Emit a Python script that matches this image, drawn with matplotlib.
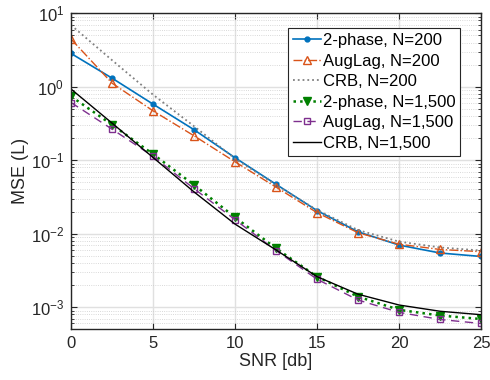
import numpy as np
import matplotlib
matplotlib.use("Agg")
import matplotlib.pyplot as plt
from matplotlib.ticker import LogLocator, NullFormatter

plt.rcParams['font.family'] = ['Liberation Sans', 'DejaVu Sans']

snr = [0, 2.5, 5, 7.5, 10, 12.5, 15, 17.5, 20, 22.5, 25]

twophase_200 = [2.84, 1.31, 0.58, 0.26, 0.108, 0.047, 0.0206, 0.0106, 0.0070, 0.00546, 0.0049]
auglag_200 = [4.46, 1.12, 0.47, 0.215, 0.095, 0.043, 0.0193, 0.0103, 0.0072, 0.0061, 0.0057]
crb_200 = [6.9, 2.3, 0.78, 0.29, 0.105, 0.046, 0.021, 0.0112, 0.0078, 0.0065, 0.0059]
twophase_1500 = [0.74, 0.304, 0.121, 0.046, 0.0167, 0.0063, 0.0026, 0.00139, 0.00092, 0.00077, 0.00069]
auglag_1500 = [0.61, 0.265, 0.113, 0.041, 0.0155, 0.0059, 0.0024, 0.00125, 0.00085, 0.00068, 0.0006]
crb_1500 = [0.93, 0.32, 0.109, 0.037, 0.0135, 0.006, 0.0026, 0.0015, 0.00107, 0.00088, 0.00079]

fig = plt.figure(figsize=(4.9, 3.8), dpi=100)
ax = fig.add_axes([0.145, 0.1334, 0.837, 0.8316])

ax.plot(snr, twophase_200, '-o', color='#0072BD', lw=1.2, ms=3.5, label='2-phase, N=200')
ax.plot(snr, auglag_200, '-.^', color='#D95319', lw=1.0, ms=6, mfc='none', label='AugLag, N=200')
ax.plot(snr, crb_200, ':', color='#808080', lw=1.3, label='CRB, N=200')
ax.plot(snr, twophase_1500, ':v', color='#008000', lw=1.8, ms=5.5, label='2-phase, N=1,500')
ax.plot(snr, auglag_1500, '--s', color='#7E2F8E', lw=1.0, ms=5, mfc='none', dashes=(6, 4), label='AugLag, N=1,500')
ax.plot(snr, crb_1500, '-', color='black', lw=1.0, label='CRB, N=1,500')

ax.set_yscale('log')
ax.set_xlim(0, 25)
ax.set_ylim(5e-4, 10)
ax.set_xticks([0, 5, 10, 15, 20, 25])
ax.yaxis.set_major_locator(LogLocator(base=10, numticks=10))
ax.yaxis.set_minor_locator(LogLocator(base=10, subs=np.arange(2, 10), numticks=20))
ax.yaxis.set_minor_formatter(NullFormatter())

ax.grid(True, which='major', color='#e0e0e0', lw=1.0, ls='-')
ax.grid(True, which='minor', axis='y', color='#cccccc', lw=0.6, ls=':')
ax.set_axisbelow(True)

ax.tick_params(which='both', direction='in', top=True, right=True, labelsize=12, colors='#262626')
ax.tick_params(which='major', length=4, pad=5)
ax.tick_params(which='minor', length=2)
for s in ax.spines.values():
    s.set_color('#262626')
    s.set_linewidth(1.0)

ax.set_xlabel('SNR [db]', fontsize=13, color='#262626', labelpad=1)
ax.set_ylabel('MSE (L)', fontsize=13, color='#262626', labelpad=1)

leg = ax.legend(loc='upper right', bbox_to_anchor=(0.949, 0.953), fontsize=12, frameon=True,
                fancybox=False, edgecolor='#262626', framealpha=1, handlelength=1.7,
                handletextpad=0.1, borderpad=0.3, labelspacing=0.33, borderaxespad=0)
leg.get_frame().set_linewidth(0.8)

fig.savefig('out.png', dpi=100)
